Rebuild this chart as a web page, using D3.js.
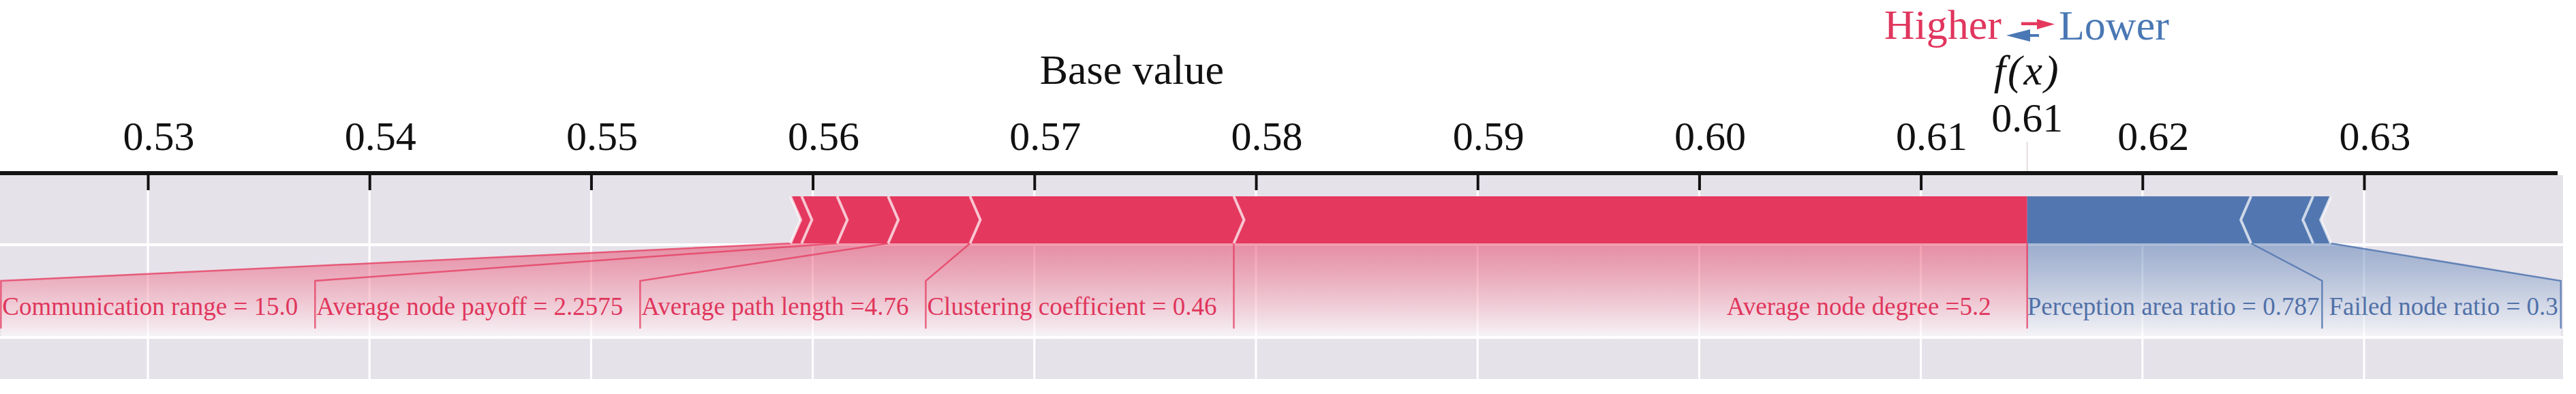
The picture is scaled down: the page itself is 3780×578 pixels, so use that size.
<!DOCTYPE html>
<html>
<head>
<meta charset="utf-8">
<script src="https://cdn.jsdelivr.net/npm/d3@7"></script>
<style>
  html, body { margin: 0; padding: 0; background: #fff; }
  svg { display: block; font-family: 'Liberation Serif', 'Times New Roman', serif; }
</style>
</head>
<body>
<div id="chart"></div>
<script>
'use strict';

// axis ticks
const xTicks = [0.53, 0.54, 0.55, 0.56, 0.57, 0.58, 0.59, 0.60, 0.61, 0.62, 0.63];

// model output and base value
const outputValue = 0.6148;
const baseValue = 0.5744;

// features pushing higher (red), nearest f(x) first; '' = unlabeled
const posLabels = ['Average node degree =5.2', 'Clustering coefficient = 0.46', 'Average path length =4.76',
    'Average node payoff = 2.2575', 'Communication range = 15.0', ''];
const posEffects = [0.0358, 0.0119, 0.0037, 0.0023, 0.0016, 0.0005];

// features pushing lower (blue), nearest f(x) first
const negLabels = ['Perception area ratio = 0.787', 'Failed node ratio = 0.3', ''];
const negEffects = [0.0101, 0.0028, 0.0008];

const measurements = {
    width: 3780,
    height: 578,
    axisY: 254,
    plotTop: 257,
    plotBottom: 556,
    plotRight: 3761,
    barTop: 288,
    barBottom: 357,
    linkY: 412,
    lineEnd: 482,
    backEnd: 494,
    labelY: 462,
    tip: 15
};

const red = '#e5385e';
const blue = '#5277b0';

const svg = d3.select('#chart')
    .append('svg')
    .attr('width', measurements.width)
    .attr('height', measurements.height);

const x = d3.scaleLinear()
    .domain([0.53, 0.63])
    .range([217, 3469]);

const m = measurements;
const barMid = (m.barTop + m.barBottom) / 2;

// gradients for the label backings
const defs = svg.append('defs');
function makeGrad(id, color) {
    const g = defs.append('linearGradient')
        .attr('id', id)
        .attr('x1', 0).attr('y1', 0).attr('x2', 0).attr('y2', 1);
    g.append('stop').attr('offset', '0%').attr('stop-color', color).attr('stop-opacity', 0.5);
    g.append('stop').attr('offset', '100%').attr('stop-color', '#ffffff').attr('stop-opacity', 0.62);
}
makeGrad('gradPos', red);
makeGrad('gradNeg', blue);

// plot background + grid
svg.append('rect')
    .attr('x', 0)
    .attr('y', m.plotTop)
    .attr('width', m.plotRight)
    .attr('height', m.plotBottom - m.plotTop)
    .attr('fill', '#e6e2ea');

svg.selectAll('.vgrid')
    .data(xTicks)
    .enter()
    .append('line')
    .attr('class', 'vgrid')
    .attr('x1', d => x(d)).attr('x2', d => x(d))
    .attr('y1', m.plotTop).attr('y2', m.plotBottom)
    .attr('stroke', '#fff')
    .attr('stroke-width', 3);

svg.selectAll('.hgrid')
    .data([m.barBottom + 2, 495])
    .enter()
    .append('line')
    .attr('class', 'hgrid')
    .attr('x1', 0).attr('x2', m.plotRight)
    .attr('y1', d => d).attr('y2', d => d)
    .attr('stroke', '#fff')
    .attr('stroke-width', 4);

// build segments
let pos = [];
let edge = outputValue;
posEffects.forEach((e, i) => {
    pos.push({ name: posLabels[i], x0: edge - e, x1: edge });
    edge -= e;
});
let neg = [];
edge = outputValue;
negEffects.forEach((e, i) => {
    neg.push({ name: negLabels[i], x0: edge, x1: edge + e });
    edge += e;
});

// label groups (unlabeled features join the label before them)
let posGroups = [];
pos.forEach(d => {
    if (d.name) posGroups.push({ name: d.name, x0: d.x0, x1: d.x1 });
    else posGroups[posGroups.length - 1].x0 = d.x0;
});
let negGroups = [];
neg.forEach(d => {
    if (d.name) negGroups.push({ name: d.name, x0: d.x0, x1: d.x1 });
    else negGroups[negGroups.length - 1].x1 = d.x1;
});

// label texts (measure first)
const labelLayer = svg.append('g');
const backLayer = labelLayer.append('g');
const linkLayer = labelLayer.append('g');
const textLayer = labelLayer.append('g');

const posText = textLayer.selectAll('.pos-label')
    .data(posGroups)
    .enter()
    .append('text')
    .attr('class', 'pos-label')
    .attr('y', m.labelY)
    .attr('font-size', 37)
    .attr('fill', '#e0365c')
    .text(d => d.name);
posText.each(function(d) { d.w = this.getComputedTextLength(); });

const negText = textLayer.selectAll('.neg-label')
    .data(negGroups)
    .enter()
    .append('text')
    .attr('class', 'neg-label')
    .attr('y', m.labelY)
    .attr('font-size', 37)
    .attr('fill', '#5171a8')
    .text(d => d.name);
negText.each(function(d) { d.w = this.getComputedTextLength(); });

// pack red labels right to left
let prevBoxL = null;
posGroups.forEach((g, i) => {
    const segL = x(g.x0), segR = x(g.x1);
    const right = i === 0 ? segR - 53 : Math.min(segR, prevBoxL) - 25;
    g.textLeft = right - g.w;
    g.boxR = i === 0 ? segR : prevBoxL;
    g.boxL = Math.min(segL, g.textLeft - 2);
    g.segL = segL; g.segR = segR;
    prevBoxL = g.boxL;
});

// pack blue labels left to right
let prevBoxR = null;
negGroups.forEach((g, i) => {
    const segL = x(g.x0), segR = x(g.x1);
    g.textLeft = i === 0 ? segL : Math.max(segL, prevBoxR) + 10;
    g.boxL = i === 0 ? segL : prevBoxR;
    g.boxR = Math.max(segR, g.textLeft + g.w + 4);
    g.segL = segL; g.segR = segR;
    prevBoxR = g.boxR;
});

posText.attr('x', d => d.textLeft);
negText.attr('x', d => d.textLeft);

function backing(d) {
    return `M${d.segL},${m.barBottom}L${d.segR},${m.barBottom}L${d.boxR},${m.linkY}` +
        `L${d.boxR},${m.backEnd}L${d.boxL},${m.backEnd}L${d.boxL},${m.linkY}Z`;
}

backLayer.selectAll('.pos-back')
    .data(posGroups)
    .enter()
    .append('path')
    .attr('d', backing)
    .attr('fill', 'url(#gradPos)');

backLayer.selectAll('.neg-back')
    .data(negGroups)
    .enter()
    .append('path')
    .attr('d', backing)
    .attr('fill', 'url(#gradNeg)');

linkLayer.selectAll('.pos-link')
    .data(posGroups)
    .enter()
    .append('path')
    .attr('d', d => `M${d.segL},${m.barBottom}L${d.boxL},${m.linkY}L${d.boxL},${m.lineEnd}`)
    .attr('fill', 'none')
    .attr('stroke', red)
    .attr('stroke-opacity', 0.75)
    .attr('stroke-width', 2.5);

linkLayer.append('path')
    .attr('d', `M${x(outputValue)},${m.barBottom}L${x(outputValue)},${m.lineEnd}`)
    .attr('stroke', red)
    .attr('stroke-opacity', 0.75)
    .attr('stroke-width', 2.5);

linkLayer.selectAll('.neg-link')
    .data(negGroups)
    .enter()
    .append('path')
    .attr('d', d => `M${d.segR},${m.barBottom}L${d.boxR},${m.linkY}L${d.boxR},${m.lineEnd}`)
    .attr('fill', 'none')
    .attr('stroke', blue)
    .attr('stroke-opacity', 0.85)
    .attr('stroke-width', 2.5);

// bars
function redPath(d) {
    const L = x(d.x0), R = x(d.x1);
    const tR = d.x1 === outputValue ? 0 : m.tip;
    return `M${L},${m.barTop}L${R},${m.barTop}L${R + tR},${barMid}L${R},${m.barBottom}` +
        `L${L},${m.barBottom}L${L + m.tip},${barMid}Z`;
}
function bluePath(d) {
    const L = x(d.x0), R = x(d.x1);
    const tL = d.x0 === outputValue ? 0 : m.tip;
    return `M${L},${m.barTop}L${R},${m.barTop}L${R - m.tip},${barMid}L${R},${m.barBottom}` +
        `L${L},${m.barBottom}L${L - tL},${barMid}Z`;
}

svg.selectAll('.pos-bar')
    .data(pos)
    .enter()
    .append('path')
    .attr('d', redPath)
    .attr('fill', red);

svg.selectAll('.neg-bar')
    .data(neg)
    .enter()
    .append('path')
    .attr('d', bluePath)
    .attr('fill', blue);

// chevron dividers
svg.selectAll('.pos-div')
    .data(pos)
    .enter()
    .append('path')
    .attr('d', d => `M${x(d.x0)},${m.barTop}L${x(d.x0) + m.tip},${barMid}L${x(d.x0)},${m.barBottom}`)
    .attr('fill', 'none')
    .attr('stroke', '#fff')
    .attr('stroke-opacity', 0.7)
    .attr('stroke-width', 4);

svg.selectAll('.neg-div')
    .data(neg)
    .enter()
    .append('path')
    .attr('d', d => `M${x(d.x1)},${m.barTop}L${x(d.x1) - m.tip},${barMid}L${x(d.x1)},${m.barBottom}`)
    .attr('fill', 'none')
    .attr('stroke', '#fff')
    .attr('stroke-opacity', 0.7)
    .attr('stroke-width', 4);

// axis
const axis = svg.append('g')
    .attr('transform', 'translate(0,' + m.plotTop + ')')
    .call(d3.axisBottom(x).tickValues(xTicks).tickSize(22).tickFormat(''));
axis.select('.domain').remove();
axis.selectAll('.tick line')
    .attr('stroke', '#111')
    .attr('stroke-width', 4);

svg.append('line')
    .attr('x1', 0).attr('x2', 3753)
    .attr('y1', m.axisY).attr('y2', m.axisY)
    .attr('stroke', '#141414')
    .attr('stroke-width', 6);

svg.selectAll('.tick-label')
    .data(xTicks)
    .enter()
    .append('text')
    .attr('class', 'tick-label')
    .attr('x', d => x(d) + 16)
    .attr('y', 220)
    .attr('text-anchor', 'middle')
    .attr('font-size', 60)
    .attr('fill', '#111')
    .text(d => d3.format('.2f')(d));

// f(x) marker
const fx = x(outputValue);
svg.append('line')
    .attr('x1', fx).attr('x2', fx)
    .attr('y1', 208).attr('y2', m.axisY - 3)
    .attr('stroke', '#e8dede')
    .attr('stroke-width', 2);

svg.append('text')
    .attr('x', fx)
    .attr('y', 193)
    .attr('text-anchor', 'middle')
    .attr('font-size', 60)
    .attr('fill', '#111')
    .text(d3.format('.2f')(outputValue));

svg.append('text')
    .attr('x', fx)
    .attr('y', 124)
    .attr('text-anchor', 'middle')
    .attr('font-size', 62)
    .attr('font-style', 'italic')
    .attr('letter-spacing', 3)
    .attr('fill', '#111')
    .text('f(x)');

// base value
svg.append('text')
    .attr('x', x(baseValue))
    .attr('y', 123)
    .attr('text-anchor', 'middle')
    .attr('font-size', 62)
    .attr('fill', '#111')
    .text('Base value');

// higher / lower legend
svg.append('text')
    .attr('x', 2937)
    .attr('y', 57)
    .attr('text-anchor', 'end')
    .attr('font-size', 62)
    .attr('fill', '#e0365e')
    .text('Higher');

svg.append('text')
    .attr('x', 3021)
    .attr('y', 58)
    .attr('text-anchor', 'start')
    .attr('font-size', 62)
    .attr('fill', '#4a78b4')
    .text('Lower');

svg.append('rect')
    .attr('x', 2966).attr('y', 32.5).attr('width', 25).attr('height', 4.5)
    .attr('fill', red);
svg.append('path')
    .attr('d', 'M2989,28L3015,35.5L2989,43Z')
    .attr('fill', red);
svg.append('rect')
    .attr('x', 2977).attr('y', 50).attr('width', 15).attr('height', 4)
    .attr('fill', '#4a78b4');
svg.append('path')
    .attr('d', 'M2979,43L2944,52L2979,61Z')
    .attr('fill', '#4a78b4');
</script>
</body>
</html>
